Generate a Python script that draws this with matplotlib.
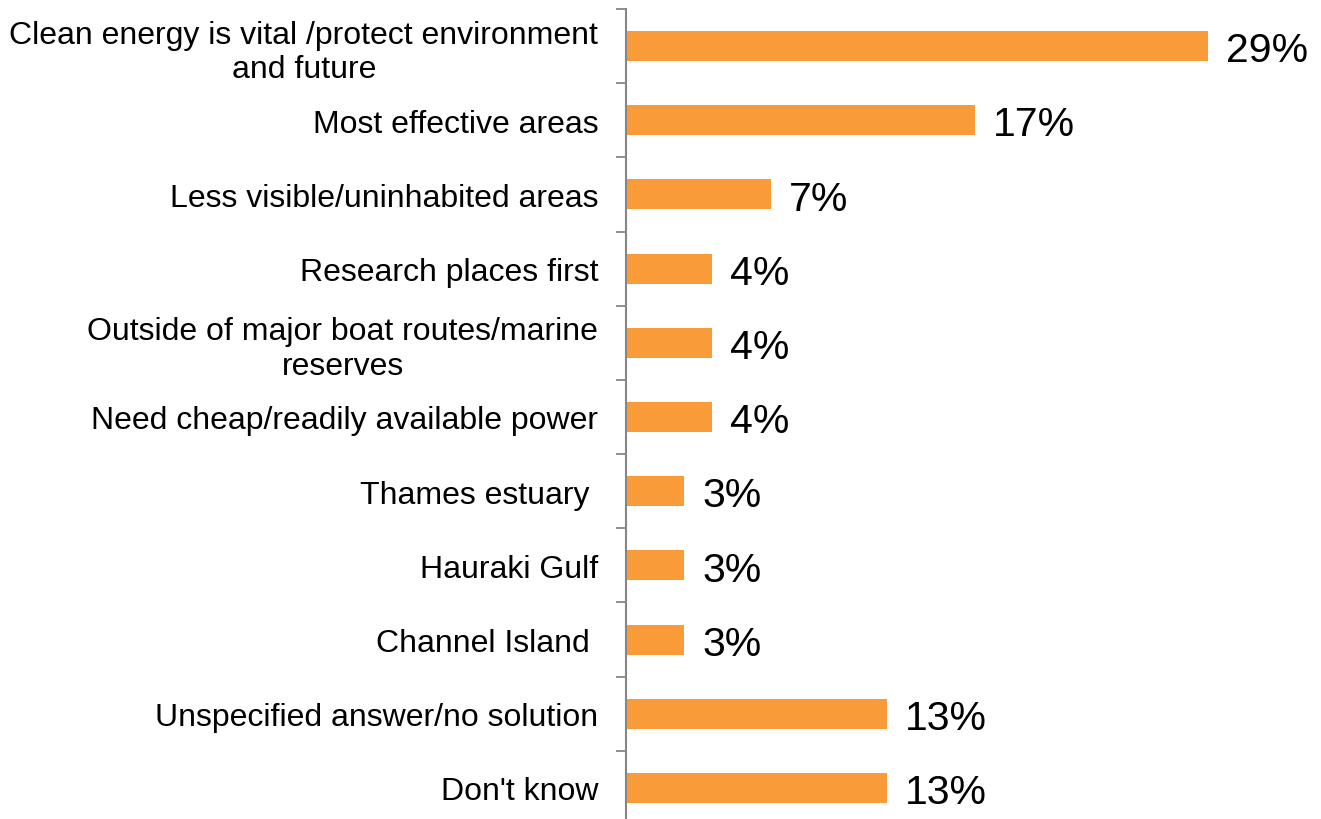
import matplotlib.pyplot as plt
import numpy as np

plt.rcParams['font.family'] = ['Liberation Sans', 'DejaVu Sans']

# Datos (de arriba hacia abajo)
categorias = [
    "Clean energy is vital /protect environment\nand future",
    "Most effective areas",
    "Less visible/uninhabited areas",
    "Research places first",
    "Outside of major boat routes/marine\nreserves",
    "Need cheap/readily available power",
    "Thames estuary ",
    "Hauraki Gulf",
    "Channel Island ",
    "Unspecified answer/no solution",
    "Don't know",
]
valores = [29.0, 17.4, 7.2, 4.3, 4.3, 4.3, 2.9, 2.9, 2.9, 13.0, 13.0]
etiquetas = ["29%", "17%", "7%", "4%", "4%", "4%", "3%", "3%", "3%", "13%", "13%"]

fig = plt.figure(figsize=(13.21, 8.2), dpi=100)
ax = fig.add_axes([626 / 1321, -6 / 820, 1 - 626 / 1321, 816 / 820])

y = np.arange(len(categorias))
ax.barh(y, valores, height=0.405, color='#F99B38')

# Etiquetas de valor al final de cada barra
for yi, v, txt in zip(y, valores, etiquetas):
    ax.annotate(txt, (v, yi), xytext=(13, -3), textcoords='offset points',
                va='center', ha='left', fontsize=29.5, color='black')

ax.set_ylim(len(categorias) - 0.5, -0.5)
ax.set_xlim(0, (1321 - 626) / 20.07)

ax.set_yticks(y)
ax.set_yticklabels(categorias, fontsize=23, multialignment='center',
                   linespacing=1.2)
ax.set_yticks(np.arange(-0.5, len(categorias), 1), minor=True)
ax.tick_params(axis='y', which='major', length=0, pad=20)
ax.tick_params(axis='y', which='minor', length=7, width=1.3, color='#868686')
ax.set_xticks([])

for lado in ['top', 'right', 'bottom']:
    ax.spines[lado].set_visible(False)
ax.spines['left'].set_color('#868686')
ax.spines['left'].set_linewidth(1.5)

fig.savefig('out.png', dpi=100)
